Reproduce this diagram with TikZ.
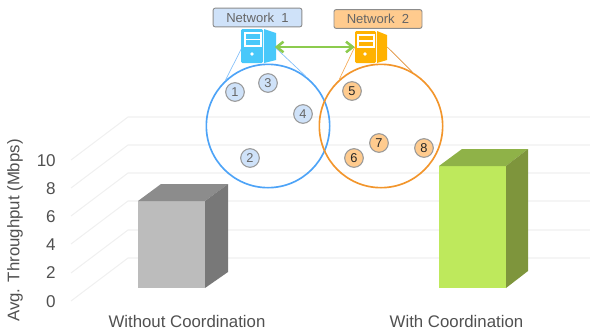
\documentclass[tikz,border=0pt]{standalone}
\usepackage{fontspec}
\setmainfont{Liberation Sans}
\usetikzlibrary{arrows.meta}
\definecolor{txt}{HTML}{505050}
\definecolor{gridc}{HTML}{F0F0F0}
\definecolor{lblue}{HTML}{CFE2F9}
\definecolor{lorange}{HTML}{FFCB8E}
\definecolor{bluec}{HTML}{4DA3F7}
\definecolor{orangec}{HTML}{F2952B}
\definecolor{linkc}{HTML}{8CCB4E}
\tikzset{
  x=0.75pt,y=-0.75pt,
  gridl/.style={draw=gridc,line width=0.8pt},
  tick/.style={anchor=east,text=txt,font=\fontsize{12.8}{14}\selectfont,inner sep=0pt},
  axlabel/.style={text=txt,font=\fontsize{12.6}{14}\selectfont,inner sep=0pt},
  member/.style={circle,draw=gray!80,line width=0.8pt,minimum size=14pt,inner sep=0pt,font=\fontsize{9.6}{11}\selectfont},
  blueM/.style={member,fill=lblue,text=black!60},
  orangeM/.style={member,fill=lorange,text=black!85},
  netbox/.style={draw=gray!90,line width=0.7pt,rounded corners=1.5pt,text=black!60,inner sep=0pt,font=\fontsize{9.8}{11}\selectfont,minimum height=14pt},
  zone/.style={circle,line width=1.25pt,minimum size=92.5pt,inner sep=0pt},
  cone/.style={line width=0.5pt},
  srvbox/.style={inner sep=0pt,minimum width=24pt,minimum height=25pt},
  link/.style={draw=linkc,line width=1.9pt,{Straight Barb[length=5pt,width=8pt]}-{Straight Barb[length=5pt,width=8pt]}},
}
\begin{document}
\begin{tikzpicture}
\useasboundingbox (0,0) rectangle (590,333);
% grid
\foreach \yy in {117,145,173,201,230,258}{
  \draw[gridl] (71,\yy+43) -- (128,\yy) -- (590,\yy);
}
% ticks
\foreach \lab/\yy in {10/161,8/189,6/217,4/245,2/273,0/302}{
  \node[tick] at (56,\yy) {\lab};
}
\node[axlabel,rotate=90] (ylab) at (15,230.5) {Avg. Throughput (Mbps)};
\node[axlabel] (xa) at (187,321) {Without Coordination};
\node[axlabel] (xb) at (456.5,321) {With Coordination};
% bar 1
\fill[fill={rgb,255:red,188;green,188;blue,188}] (138,201) rectangle (205,288);
\fill[fill={rgb,255:red,140;green,140;blue,140}] (138,201) -- (161,184) -- (228,184) -- (205,201) -- cycle;
\fill[fill={rgb,255:red,120;green,120;blue,120}] (205,201) -- (228,184) -- (228,272) -- (205,288) -- cycle;
% bar 2
\fill[fill={rgb,255:red,190;green,233;blue,92}] (439,166) rectangle (506,288);
\fill[fill={rgb,255:red,143;green,178;blue,72}] (439,166) -- (462,149) -- (528,149) -- (506,166) -- cycle;
\fill[fill={rgb,255:red,126;green,149;blue,60}] (506,166) -- (528,149) -- (528,271) -- (506,288) -- cycle;
% zones
\node[zone,draw=bluec] (zoneA) at (268,126) {};
\node[zone,draw=orangec] (zoneB) at (381,126) {};
% servers
\node[srvbox] (srvA) at (258.5,47) {};
\node[srvbox] (srvB) at (371,47) {};
\draw[cone,draw=bluec!70] (srvA.west) -- (zoneA.133);
\draw[cone,draw=bluec!70] (srvA.east) -- (zoneA.53.5);
\draw[cone,draw=orangec!80] (srvB.west) -- (zoneB.132);
\draw[cone,draw=orangec!60!brown] (srvB.east) -- (zoneB.60);
% server A icon
\fill[fill={rgb,255:red,72;green,200;blue,250},rounded corners=1pt] (241,29) rectangle (263,63);
\fill[fill={rgb,255:red,72;green,200;blue,250}] (264,29) -- (276,33) -- (276,60) -- (264,63) -- cycle;
\draw[white,line width=0.8pt] (245,33) rectangle (261,46);
\draw[white,line width=0.8pt] (245,39.5) -- (261,39.5);
\fill[white] (252,54) circle (1.8);
% server B icon
\fill[fill={rgb,255:red,255;green,178;blue,0},rounded corners=1pt] (355,31) rectangle (376,63);
\fill[fill={rgb,255:red,255;green,178;blue,0}] (377,31) -- (387,35) -- (387,60) -- (377,63) -- cycle;
\draw[white,line width=0.8pt] (358,35) rectangle (374,47);
\draw[white,line width=0.8pt] (358,41) -- (374,41);
\fill[white] (365,54) circle (1.8);
% link
\draw[link] (srvA.east) -- (srvB.west);
% labels
\node[netbox,fill=lblue,minimum width=66.5pt] (netA) at (257.5,17.5) {Network\ \ 1};
\node[netbox,fill=lorange,minimum width=66pt] (netB) at (378,19) {Network\ \ 2};
% members
\node[blueM] (m1) at (235,92) {1};
\node[blueM] (m3) at (268,83) {3};
\node[blueM] (m4) at (303,114) {4};
\node[blueM] (m2) at (250,158) {2};
\node[orangeM] (m5) at (352,91) {5};
\node[orangeM] (m7) at (379,143) {7};
\node[orangeM] (m6) at (354,158) {6};
\node[orangeM] (m8) at (424,148) {8};
\end{tikzpicture}
\end{document}
